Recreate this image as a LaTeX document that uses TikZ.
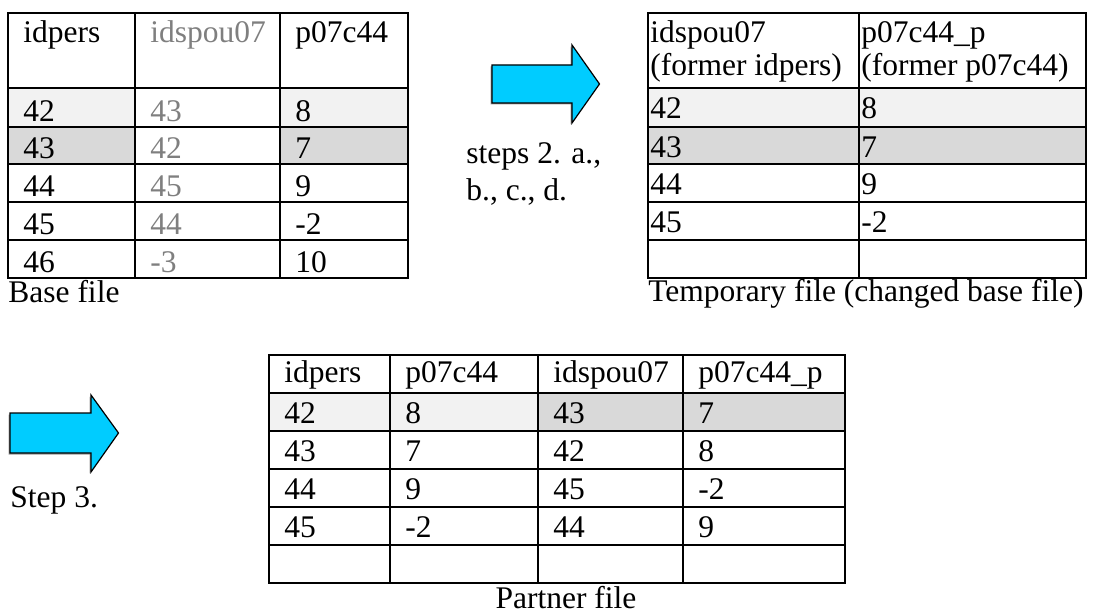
\documentclass[tikz,border=0pt]{standalone}
\usepackage{fontspec}
\setmainfont{Liberation Serif}
\usepackage{tikz}

\definecolor{rowlight}{HTML}{F2F2F2}
\definecolor{rowdark}{HTML}{D9D9D9}
\definecolor{idgray}{HTML}{7F7F7F}
\definecolor{arrowblue}{HTML}{00CCFF}

\begin{document}
\begin{tikzpicture}[
x=0.5pt, y=-0.5pt,
cell/.style={anchor=base west, inner sep=0pt, font=\fontsize{15.75}{18.5}\selectfont},
grid/.style={draw=black, line width=1.1pt},
bigarrow/.style={fill=arrowblue, draw=black, line width=0.6pt, line join=miter}
]
\useasboundingbox (0,0) rectangle (1093,615);

% base file
\fill[rowlight] (8,88) rectangle (135,127);
\fill[rowlight] (280,88) rectangle (408,127);
\fill[rowdark] (8,127) rectangle (135,164);
\fill[rowdark] (280,127) rectangle (408,164);
\draw[grid] (8,13) rectangle (408,278);
\draw[grid] (135,13) -- (135,278);
\draw[grid] (280,13) -- (280,278);
\foreach \y in {88,127,164,202,240} \draw[grid] (8,\y) -- (408,\y);

\node[cell] (base-h1) at (23,43) {idpers};
\node[cell, text=idgray] (base-h2) at (150,43) {idspou07};
\node[cell] (base-h3) at (295,43) {p07c44};
\foreach \yy/\a/\b/\c [count=\i] in {121.5/42/43/8, 158.5/43/42/7, 196.5/44/45/9, 234.5/45/44/-2, 272.5/46/-3/10} {
  \node[cell] (base-\i-1) at (23,\yy) {\a};
  \node[cell, text=idgray] (base-\i-2) at (150,\yy) {\b};
  \node[cell] (base-\i-3) at (295,\yy) {\c};
}
\node[cell] (basecap) at (8,302) {Base file};

% steps 2
\fill[black!40] (490.5,66.5) -- (570.5,66.5) -- (570.5,46.5) -- (598,85.5) -- (570.5,124.5) -- (570.5,104.5) -- (490.5,104.5) -- cycle;
\draw[bigarrow] (492,65) -- (572,65) -- (572,45) -- (599.5,84) -- (572,123) -- (572,103) -- (492,103) -- cycle;
\node[cell] (steps-a) at (466,163) {steps 2. a.,};
\node[cell] (steps-b) at (466,200) {b., c., d.};

% temporary file
\fill[rowlight] (648,88) rectangle (1086,127);
\fill[rowdark] (648,127) rectangle (1086,164);
\draw[grid] (648,13) rectangle (1086,278);
\draw[grid] (859,13) -- (859,278);
\foreach \y in {88,127,164,202,240} \draw[grid] (648,\y) -- (1086,\y);

\node[cell] (tmp-h1) at (650,43) {idspou07};
\node[cell] (tmp-h1b) at (650,76) {(former idpers)};
\node[cell] (tmp-h2) at (861,43) {p07c44\_p};
\node[cell] (tmp-h2b) at (861,76) {(former p07c44)};
\foreach \yy/\a/\b [count=\i] in {119/42/8, 157/43/7, 195/44/9, 233/45/-2} {
  \node[cell] (tmp-\i-1) at (650,\yy) {\a};
  \node[cell] (tmp-\i-2) at (861,\yy) {\b};
}
\node[cell] (tmpcap) at (648,301) {Temporary file (changed base file)};

% step 3
\fill[black!40] (8.5,414.5) -- (89.5,414.5) -- (89.5,396.5) -- (117,434.5) -- (89.5,473.5) -- (89.5,454.5) -- (8.5,454.5) -- cycle;
\draw[bigarrow] (10,413) -- (91,413) -- (91,395) -- (118.5,433) -- (91,472) -- (91,453) -- (10,453) -- cycle;
\node[cell] (step3) at (10,507) {Step 3.};

% partner file
\fill[rowlight] (269,393) rectangle (538,431);
\fill[rowdark] (538,393) rectangle (845,431);
\draw[grid] (269,355) rectangle (845,583);
\foreach \x in {390,538,683} \draw[grid] (\x,355) -- (\x,583);
\foreach \y in {393,431,469,507,545} \draw[grid] (269,\y) -- (845,\y);

\node[cell] (part-h1) at (284,382) {idpers};
\node[cell] (part-h2) at (405,382) {p07c44};
\node[cell] (part-h3) at (553,382) {idspou07};
\node[cell] (part-h4) at (698,382) {p07c44\_p};
\foreach \yy/\a/\b/\c/\d [count=\i] in {423/42/8/43/7, 461/43/7/42/8, 499/44/9/45/-2, 537/45/-2/44/9} {
  \node[cell] (part-\i-1) at (284,\yy) {\a};
  \node[cell] (part-\i-2) at (405,\yy) {\b};
  \node[cell] (part-\i-3) at (553,\yy) {\c};
  \node[cell] (part-\i-4) at (698,\yy) {\d};
}
\node[cell, anchor=base] (partcap) at (566,608) {Partner file};
\end{tikzpicture}
\end{document}
